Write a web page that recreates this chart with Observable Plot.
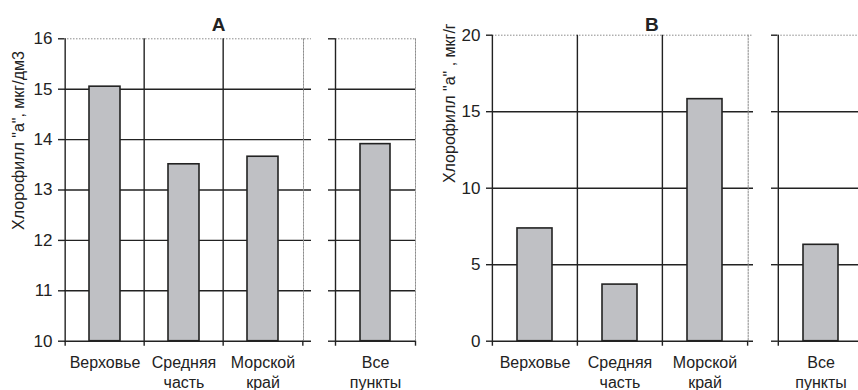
<!DOCTYPE html>
<html><head><meta charset="utf-8">
<script src="https://cdn.jsdelivr.net/npm/d3@7"></script>
<script src="https://cdn.jsdelivr.net/npm/@observablehq/plot@0.6"></script>
<style>
html,body{margin:0;padding:0;background:#fff;overflow:hidden;}
#chart{position:relative;width:858px;height:390px;overflow:hidden;font-family:"Liberation Sans",Arial,sans-serif;}
#chart svg{position:absolute;top:0;overflow:visible;}
</style></head><body><div id="chart"></div>
<script>
// Categories
const sites = ["Верховье", "Средняя\nчасть", "Морской\nкрай"];
const allSites = ["Все\nпункты"];
// Panel А: chlorophyll "a" in water, µg/dm3
const waterValues = [15.05, 13.51, 13.66];
const waterAllValues = [13.91];
const waterTicks = [10, 11, 12, 13, 14, 15, 16];
// Panel В: chlorophyll "a" in sediments, µg/g
const sedValues = [7.37, 3.7, 15.82];
const sedAllValues = [6.3];
const sedTicks = [0, 5, 10, 15, 20];
// Texts
const titleA = "А";
const titleB = "В";
const ylabelA = 'Хлорофилл "а", мкг/дм3';
const ylabelB = 'Хлорофилл "а" , мкг/г';

const ink = "#222";
const grey = "#8c8c8c";

function panel(o) {
  const data = o.cats.map((c, i) => ({c, v: o.vals[i]}));
  const step = (o.width - o.marginLeft - o.marginRight) / o.cats.length;
  const yDomain = [o.ticks[0], o.ticks[o.ticks.length - 1]];
  const marks = [
    Plot.ruleY(o.ticks.slice(0, -1), {stroke: ink, strokeWidth: 1.4, insetRight: -o.extRight}),
    Plot.ruleY(o.ticks.slice(-1), {stroke: grey, strokeDasharray: "1.5,1.5", insetRight: -o.extRight}),
    Plot.frame({anchor: "right", stroke: grey, strokeDasharray: "1.5,1.5"}),
    Plot.ruleX(o.cats, {x: d => d, dx: -step / 2, stroke: ink, strokeWidth: 1.4, insetBottom: -5}),
    Plot.ruleX(o.cats.slice(-1), {x: d => d, dx: step / 2, y1: yDomain[0], y2: yDomain[0], insetBottom: -5, stroke: ink, strokeWidth: 1.4}),
    Plot.barY(data, {x: "c", y1: yDomain[0], y2: "v", fill: "#bfc0c4", stroke: ink, strokeWidth: 1.6}),
    Plot.axisY({ticks: o.ticks, tickSize: o.tickSize, tickPadding: 6, fontSize: 17, strokeWidth: 1.4,
      tickFormat: o.showLabels ? d => String(d) : () => "", label: null}),
    Plot.text(data, {x: "c", text: "c", frameAnchor: "bottom", lineAnchor: "top", dy: 12.8, fontSize: 16, lineHeight: 1.25, fill: ink})
  ];
  if (o.title) marks.push(Plot.text([o.title], {text: d => d, frameAnchor: "top", lineAnchor: "top", dx: o.titleDx, dy: o.titleDy, fontSize: 19, fontWeight: "bold", fill: ink}));
  if (o.ylabel) marks.push(Plot.text([o.ylabel], {text: d => d, frameAnchor: "left", textAnchor: "middle", rotate: -90, dx: o.ylabelDx, dy: o.ylabelDy, fontSize: 16, fill: ink}));
  const svg = Plot.plot({
    width: o.width, height: 390,
    marginLeft: o.marginLeft, marginRight: o.marginRight, marginTop: o.marginTop, marginBottom: o.marginBottom,
    x: {domain: o.cats, type: "band", paddingInner: o.pad, paddingOuter: o.pad / 2, axis: null},
    y: {domain: yDomain},
    style: {fontFamily: '"Liberation Sans", Arial, sans-serif', fontSize: "16px", color: ink, background: "transparent"},
    marks
  });
  svg.style.left = o.left + "px";
  document.getElementById("chart").appendChild(svg);
}

panel({cats: sites, vals: waterValues, ticks: waterTicks, left: 0, width: 320,
  marginLeft: 64, marginRight: 17, marginTop: 38.3, marginBottom: 49.3, pad: 0.61, extRight: 8, tickSize: 6, showLabels: true,
  title: titleA, titleDx: 34.5, titleDy: -21.8, ylabel: ylabelA, ylabelDx: -46, ylabelDy: -49.5});
panel({cats: allSites, vals: waterAllValues, ticks: waterTicks, left: 320, width: 110,
  marginLeft: 15, marginRight: 15, marginTop: 38.3, marginBottom: 49.3, pad: 0.62, extRight: 0, tickSize: 7, showLabels: false});
panel({cats: sites, vals: sedValues, ticks: sedTicks, left: 430, width: 330,
  marginLeft: 62, marginRight: 12.3, marginTop: 34.7, marginBottom: 49.3, pad: 0.59, extRight: 5.3, tickSize: 6, showLabels: true,
  title: titleB, titleDx: 31.5, titleDy: -18.2, ylabel: ylabelB, ylabelDx: -43, ylabelDy: -85});
panel({cats: allSites, vals: sedAllValues, ticks: sedTicks, left: 760, width: 110,
  marginLeft: 17.3, marginRight: 7.3, marginTop: 34.7, marginBottom: 49.3, pad: 0.59, extRight: 0, tickSize: 6.3, showLabels: false});
</script></body></html>
